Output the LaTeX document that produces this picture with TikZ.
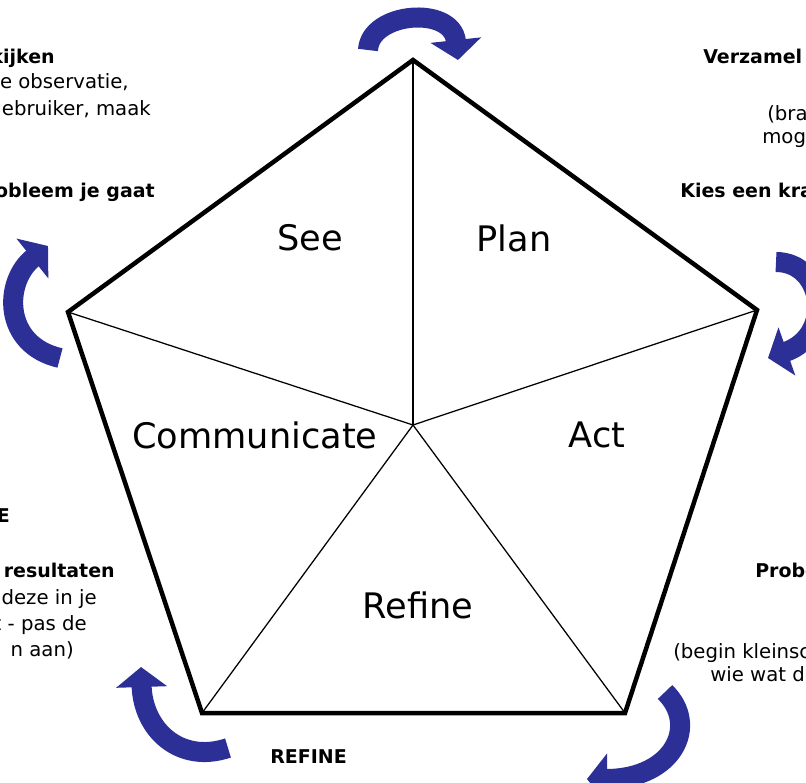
\documentclass[tikz,border=0pt]{standalone}
\usepackage{fontspec}
\setmainfont{DejaVu Sans}
\usetikzlibrary{arrows.meta}
\definecolor{cycleblue}{RGB}{44,48,150}

\begin{document}
\begin{tikzpicture}
        [x=0.025cm,y=-0.025cm,
         phase/.style={font=\fontsize{25}{29}\selectfont,inner sep=0pt},
         note/.style={font=\fontsize{14}{17}\selectfont,inner sep=0pt},
         notebold/.style={font=\fontsize{13.5}{17}\selectfont\bfseries,inner sep=0pt},
         turn/.style={cycleblue,line width=0.5cm,-{Triangle[length=0.5cm,width=1.25cm]}}]
        \useasboundingbox (0,0) rectangle (806,782);
        \clip (0,0) rectangle (806,782);
        % corners of the cycle
        \coordinate (top) at (413,60);
        \coordinate (right) at (757,310);
        \coordinate (bright) at (625,713);
        \coordinate (bleft) at (202,713);
        \coordinate (left) at (68,312);
        \coordinate (mid) at (413,425);
        \draw[line width=1.5pt] (top) -- (mid);
        \draw[line width=0.9pt] (left) -- (mid) -- (right);
        \draw[line width=0.9pt] (bleft) -- (mid) -- (bright);
        \draw[line width=3.2pt,line join=miter] (top) -- (right) -- (bright) -- (bleft) -- (left) -- cycle;
        % phases
        \node[phase] (see) at (310,238) {See};
        \node[phase] (plan) at (514,238) {Plan};
        \node[phase] (communicate) at (255,435) {Communicate};
        \node[phase] (act) at (597,435) {Act};
        \node[phase] (refine) at (418,605) {Refine};
        % turning arrows
        \draw[turn] (368,50) .. controls (370,12) and (452,5) .. (458,60);
        \draw[turn] (776,262) .. controls (824,262) and (834,335) .. (768,358);
        \draw[turn] (665,692) .. controls (699,725) and (674,779) .. (587,779);
        \draw[turn] (228,748) .. controls (180,764) and (143,730) .. (141,667);
        \draw[turn] (60,358) .. controls (3,345) and (3,282) .. (48,246);
        % notes, top left
        \node[notebold,anchor=base east] (seeA) at (55,63) {kijken};
        \node[note,anchor=base east] (seeB) at (129,89) {e observatie,};
        \node[note,anchor=base east] (seeC) at (151,115) {gebruiker, maak};
        \node[notebold,anchor=base east] (seeD) at (155,197) {obleem je gaat};
        % notes, top right
        \node[notebold,anchor=base west] (planA) at (703,63) {Verzamel};
        \node[note,anchor=base west] (planB) at (767,120) {(bra};
        \node[note,anchor=base west] (planC) at (762,143) {mog};
        \node[notebold,anchor=base west] (planD) at (680,197) {Kies een kra};
        % notes, bottom left
        \node[notebold,anchor=base east] (comA) at (10,522) {E};
        \node[notebold,anchor=base east] (comB) at (115,577) {r resultaten};
        \node[note,anchor=base east] (comC) at (97,604) {deze in je};
        \node[note,anchor=base east] (comD) at (87,630) {t - pas de};
        \node[note,anchor=base east] (comE) at (74,656) {n aan)};
        % notes, bottom right
        \node[notebold,anchor=base west] (actA) at (755,577) {Probe};
        \node[note,anchor=base west] (actB) at (673,658) {(begin kleinsc};
        \node[note,anchor=base west] (actC) at (710,681) {wie wat d};
        % note, bottom
        \node[notebold,anchor=base west] (refA) at (270,763) {REFINE};
\end{tikzpicture}
\end{document}
